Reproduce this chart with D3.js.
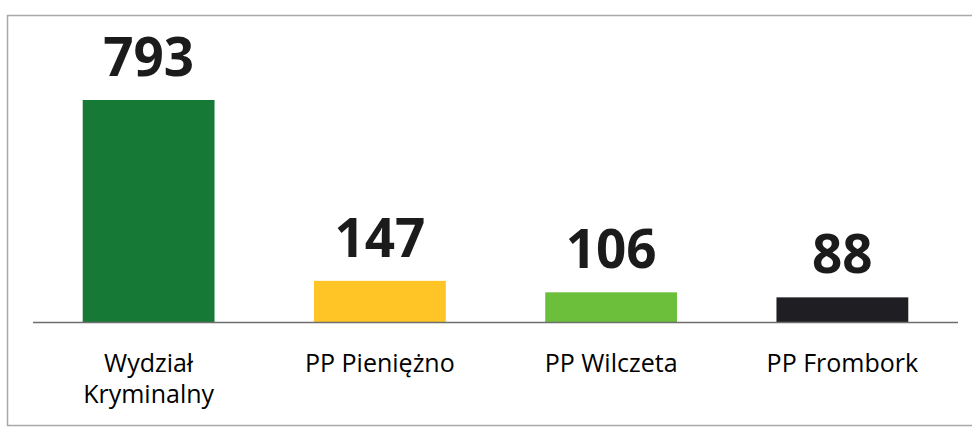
<!DOCTYPE html>
<html>
<head>
<meta charset="utf-8">
<script src="https://cdn.jsdelivr.net/npm/d3@7"></script>
<style>
  body { margin: 0; background: #fff; }
  text { font-family: "Open Sans", sans-serif; }
</style>
</head>
<body>
<svg id="chart" width="972" height="429"></svg>
<script>
// categories (two-line labels split by |)
var categories = ['Wydział|Kryminalny', 'PP Pieniężno', 'PP Wilczeta', 'PP Frombork'];
// values
var values = [793, 147, 106, 88];
// bar colours
var colors = ['#167a36', '#ffc425', '#6cbf3b', '#1f1f23'];

var svg = d3.select('#chart');

// outer frame
svg.append('rect')
  .attr('x', 7.5).attr('y', 15.5)
  .attr('width', 972).attr('height', 410)
  .attr('fill', 'none')
  .attr('stroke', '#a8a8a8')
  .attr('stroke-width', 1.5);

var x = d3.scaleBand()
  .domain(categories)
  .range([33, 958])
  .paddingInner(0.43)
  .paddingOuter(0.215);

var y = d3.scaleLinear()
  .domain([0, 793])
  .range([322, 100]);

var data = categories.map(function(c, i) {
  return {cat: c, value: values[i], color: colors[i]};
});

// bars
svg.selectAll('rect.bar').data(data)
  .enter()
  .append('rect')
  .attr('class', 'bar')
  .attr('x', function(d) { return x(d.cat); })
  .attr('y', function(d) { return y(d.value); })
  .attr('width', x.bandwidth())
  .attr('height', function(d) { return y(0) - y(d.value); })
  .attr('fill', function(d) { return d.color; });

// axis line
svg.append('line')
  .attr('x1', 33).attr('x2', 958)
  .attr('y1', y(0) + 0.5).attr('y2', y(0) + 0.5)
  .attr('stroke', '#6e6e6e')
  .attr('stroke-width', 1.5);

// value labels
svg.selectAll('text.val').data(data)
  .enter()
  .append('text')
  .attr('class', 'val')
  .attr('x', function(d) { return x(d.cat) + x.bandwidth() / 2; })
  .attr('y', function(d) { return y(d.value) - 24; })
  .attr('text-anchor', 'middle')
  .attr('font-size', 53)
  .attr('font-weight', 700)
  .attr('fill', '#1b1b1b')
  .text(function(d) { return d.value; });

// category labels
var labels = svg.selectAll('text.cat').data(data)
  .enter()
  .append('text')
  .attr('class', 'cat')
  .attr('text-anchor', 'middle')
  .attr('font-size', 25)
  .attr('fill', '#000');

labels.selectAll('tspan')
  .data(function(d) {
    return d.cat.split('|').map(function(s) { return {s: s, cx: x(d.cat) + x.bandwidth() / 2}; });
  })
  .enter()
  .append('tspan')
  .attr('x', function(d) { return d.cx; })
  .attr('y', function(d, i) { return 372 + i * 31; })
  .text(function(d) { return d.s; });
</script>
</body>
</html>
